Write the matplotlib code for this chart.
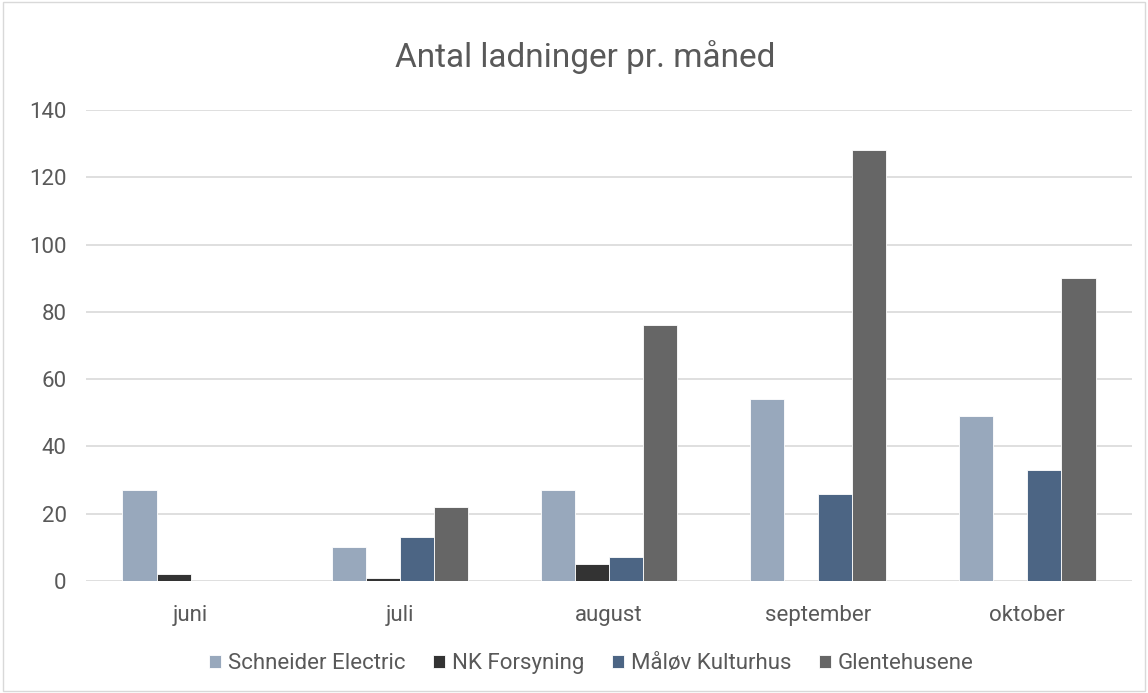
import matplotlib
matplotlib.use("Agg")
import matplotlib.pyplot as plt
import numpy as np
from matplotlib.patches import Rectangle

months = ["juni", "juli", "august", "september", "oktober"]
schneider = [27, 10, 27, 54, 49]
nk_forsyning = [2, 1, 5, 0, 0]
maalov = [0, 13, 7, 26, 33]
glentehusene = [0, 22, 76, 128, 90]

series = [
    ("Schneider Electric", schneider, "#98a8bc"),
    ("NK Forsyning", nk_forsyning, "#333333"),
    ("Måløv Kulturhus", maalov, "#4c6584"),
    ("Glentehusene", glentehusene, "#666666"),
]

plt.rcParams['font.family'] = ['Roboto', 'DejaVu Sans']
text_color = "#595959"

fig = plt.figure(figsize=(11.48, 6.93), dpi=100)
ax = fig.add_axes([0.075, 0.1616, 0.911, 0.6797])

x = np.arange(len(months))
width = 0.163
for i, (name, vals, color) in enumerate(series):
    ax.bar(x + (i - 1.5) * width, vals, width, color=color, label=name,
           edgecolor="white", linewidth=0.6, zorder=3)

ax.set_xlim(-0.5, len(months) - 0.5)
ax.set_ylim(0, 140)
ax.set_yticks(range(0, 141, 20))
ax.set_xticks(x)
ax.set_xticklabels(months)
ax.grid(axis="y", color="#d9d9d9", linewidth=1.2, zorder=0)
for s in ax.spines.values():
    s.set_visible(False)
ax.tick_params(length=0, labelsize=16, colors=text_color, pad=17)
ax.tick_params(axis="y", pad=14)

fig.text(0.51, 0.918, "Antal ladninger pr. måned", ha="center", va="center",
         fontsize=24, color=text_color)

fig.legend(loc="center", bbox_to_anchor=(0.515, 0.042), ncol=4, frameon=False,
           fontsize=16, labelcolor=text_color, handlelength=0.55, handleheight=0.55,
           handletextpad=0.3, columnspacing=1.25)

fig.patches.append(Rectangle((0.003, 0.003), 0.994, 0.994, transform=fig.transFigure,
                             fill=False, edgecolor="#d9d9d9", linewidth=1))

fig.savefig("out.png", dpi=100)
